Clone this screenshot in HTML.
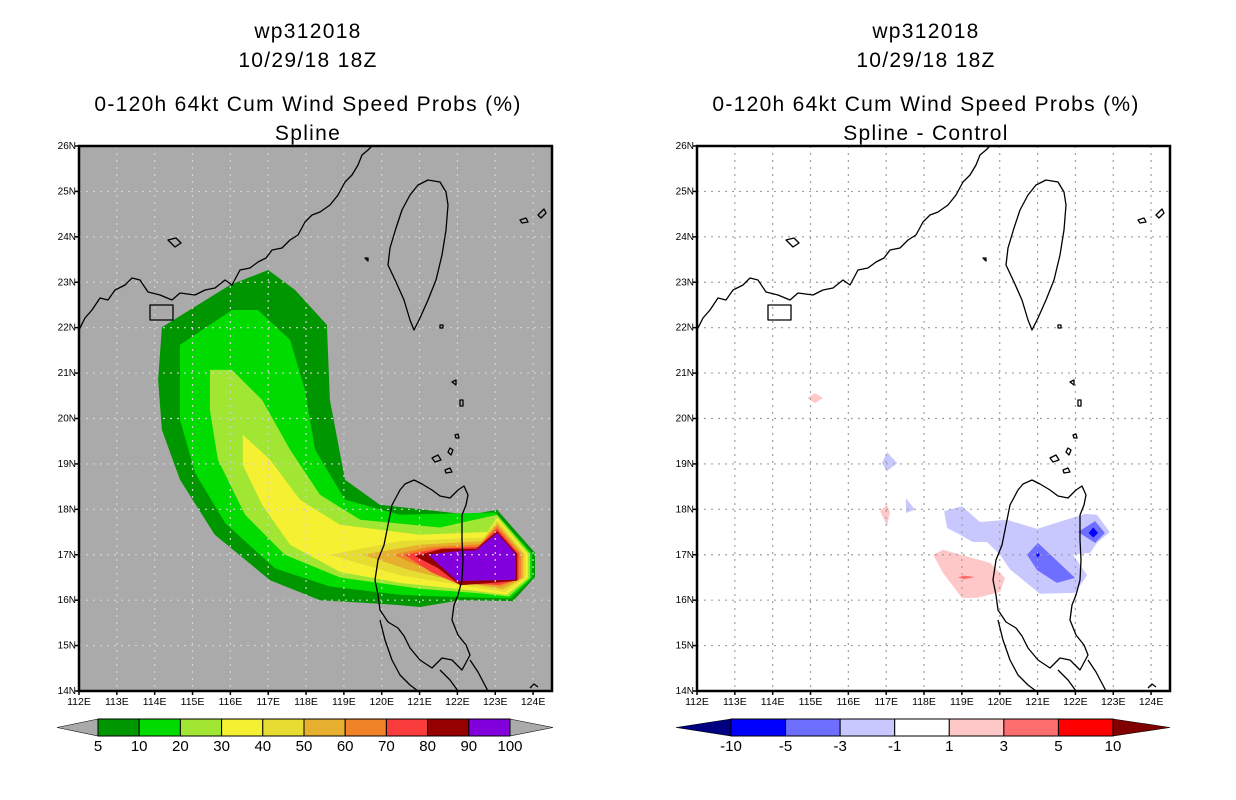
<!DOCTYPE html>
<html><head><meta charset="utf-8"><style>
body{margin:0;background:#fff;width:1236px;height:800px;overflow:hidden}
svg{display:block}
text{font-family:"Liberation Sans",sans-serif}
</style></head><body>
<svg id="s" width="1236" height="800" xmlns="http://www.w3.org/2000/svg">
<defs>
<clipPath id="clipL"><rect x="79" y="146" width="473" height="545"/></clipPath>
<g id="coast" fill="none" stroke="#000" stroke-width="1.3" stroke-linejoin="round">
<path d="M79,330 L85,318 L92,310 L100,298 L108,300 L115,290 L125,285 L132,278 L140,280 L148,292 L160,295 L172,300 L180,293 L195,295 L205,290 L215,288 L225,280 L232,285 L240,270 L250,268 L258,262 L266,258 L272,250 L282,248 L290,240 L298,235 L305,222 L312,215 L320,212 L330,205 L338,195 L345,182 L352,175 L358,165 L362,155 L368,150 L372,146"/>
<path d="M410,195 L418,185 L428,180 L440,182 L446,192 L448,205 L446,230 L442,255 L436,280 L428,300 L420,318 L414,330 L410,320 L404,300 L396,282 L388,265 L390,248 L396,228 L402,210 Z"/>
<path d="M405,484 L414,480 L422,484 L432,490 L440,496 L450,498 L458,490 L464,486 L468,495 L466,505 L462,515 L462,540 L463,560 L462,580 L458,595 L454,605 L452,620 L458,635 L466,645 L470,655 L462,670 L452,660 L442,658 L432,668 L420,660 L410,648 L404,636 L398,628 L388,622 L380,610 L378,595 L375,580 L378,560 L384,545 L388,525 L392,505 L400,490 Z"/>
<path d="M380,620 L385,640 L392,660 L400,675 L410,685 L418,691 M440,670 L450,680 L458,691 M470,660 L478,672 L488,691"/>
<path d="M150,305 h23 v15 h-23 Z"/>
<path d="M432,458 l6,-3 l3,5 l-6,2 Z M450,448 l3,2 l-2,5 l-3,-3 Z M445,470 l5,-2 l2,4 l-6,1 Z M455,435 l3,-1 l1,4 l-3,0 Z M440,325 l3,0 l0,3 l-3,0 Z M452,382 l4,-2 l0,5 Z M460,400 l3,0 l0,6 l-3,0 Z M520,220 l6,-2 l2,4 l-6,1 Z M538,215 l6,-6 l2,4 l-5,5 Z M168,240 l8,-2 l5,5 l-6,4 Z M365,258 l3,0 l0,3 Z M530,688 l4,-4 l4,3"/>
</g>
</defs>
<g id="root"></g>
</svg>
<script>
// ---- data (lon, lat) ----
const levels=[5,10,20,30,40,50,60,70,80,90,100];
const fillColors=["#009600","#00dc00","#a0e632","#f5f032","#e6dc32","#e6af2d","#f08228","#fa3c3c","#960000","#8200dc"];
const L5=[[114.19,22.01],[115.99,22.94],[117.0,23.27],[117.71,22.83],[118.55,22.06],[118.63,20.41],[119.03,18.65],[119.95,18.1],[122.33,17.88],[123.05,17.99],[124.05,17.04],[124.05,16.51],[123.47,15.98],[122.07,16.0],[121.01,15.85],[120.35,15.9],[118.37,16.0],[117.05,16.44],[115.59,17.44],[114.67,18.65],[114.19,19.75],[114.09,20.85]];
const L10=[[114.67,21.62],[116.04,22.39],[116.73,22.39],[117.58,21.73],[117.97,20.63],[118.24,19.31],[119.03,18.21],[120.48,17.88],[123.0,17.93],[123.98,17.02],[123.98,16.49],[123.4,16.04],[121.54,16.08],[120.48,16.12],[118.63,16.3],[117.18,16.7],[115.86,17.7],[115.07,18.8],[114.67,19.97]];
const L20=[[115.46,21.07],[116.04,21.07],[116.84,20.41],[117.58,19.31],[118.37,18.32],[119.43,17.77],[121.54,17.6],[123.05,17.88],[123.92,17.02],[123.92,16.49],[123.36,16.08],[122.6,16.15],[121.01,16.25],[118.9,16.5],[117.44,17.0],[116.39,17.88],[115.67,19.09],[115.46,20.19]];
const L30=[[116.33,19.64],[117.05,19.09],[117.84,18.21],[118.9,17.66],[121.01,17.44],[122.8,17.5],[123.05,17.82],[123.86,17.02],[123.86,16.49],[123.3,16.12],[122.33,16.22],[120.48,16.38],[118.9,16.62],[117.58,17.22],[116.84,18.1],[116.33,18.98]];
const L40=[[118.63,17.0],[120.48,17.3],[122.7,17.38],[123.05,17.76],[123.8,17.02],[123.8,16.49],[123.25,16.18],[122.33,16.3],[120.48,16.55]];
const L50=[[119.5,17.0],[121.01,17.22],[122.65,17.3],[123.05,17.7],[123.74,17.02],[123.74,16.49],[123.2,16.24],[122.07,16.4],[120.75,16.66]];
const L60=[[120.3,17.0],[121.27,17.17],[122.6,17.23],[123.05,17.64],[123.68,17.02],[123.68,16.49],[123.15,16.3],[121.94,16.45],[121.01,16.75]];
const L70=[[120.6,17.0],[121.54,17.14],[122.55,17.18],[123.05,17.58],[123.62,17.02],[123.62,16.45],[123.1,16.34],[122.0,16.36],[121.3,16.62]];
const L80=[[120.88,16.97],[121.6,17.13],[122.5,17.13],[123.05,17.52],[123.58,17.02],[123.58,16.43],[123.05,16.39],[122.07,16.33],[121.5,16.7]];
const L90=[[121.22,17.0],[122.0,17.08],[122.5,17.1],[123.05,17.48],[123.53,17.02],[123.53,16.45],[122.0,16.42]];
const L100=[[121.49,16.97],[122.53,16.97],[123.05,17.4],[123.48,17.0],[123.48,16.49],[122.02,16.49]];
const leftPolys=[L5,L10,L20,L30,L40,L50,L60,L70,L80,L90,L100];

const diffLevels=["-10","-5","-3","-1","1","3","5","10"];
const diffColors=["#0000ff","#6e6eff","#c8c8ff","#ffffff","#ffc8c8","#ff6e6e","#ff0000"];
const D_blueLight=[[118.53,17.96],[119.0,18.07],[119.48,17.72],[120.19,17.77],[120.99,17.57],[122.25,17.9],[122.57,17.88],[122.91,17.5],[122.57,17.26],[122.39,17.04],[121.94,17.0],[122.31,16.55],[121.99,16.16],[121.06,16.14],[120.27,16.68],[120.01,17.0],[119.66,17.28],[119.29,17.28],[118.95,17.44],[118.61,17.59]];
const D_blueSmall1=[[117.02,19.26],[117.29,19.02],[117.02,18.84],[116.89,19.02]];
const D_blueSmall2=[[117.52,18.25],[117.76,17.99],[117.52,17.92]];
const D_blueMed1=[[120.72,17.0],[121.01,17.26],[121.99,16.49],[121.51,16.38],[120.99,16.66]];
const D_blueMed2=[[122.07,17.5],[122.52,17.74],[122.78,17.48],[122.52,17.26]];
const D_blueDark1=[[122.35,17.48],[122.47,17.6],[122.6,17.48],[122.47,17.38]];
const D_blueDark2=[[120.96,17.0],[121.01,17.06],[121.06,17.0],[121.01,16.94]];
const D_pinkMain=[[118.24,17.0],[118.5,17.11],[119.74,16.82],[120.14,16.49],[120.01,16.18],[119.4,16.05],[119.0,16.05],[118.5,16.6]];
const D_pinkSmall1=[[117.02,18.1],[117.1,17.94],[117.02,17.63],[116.84,17.96]];
const D_pinkSmall2=[[114.91,20.45],[115.12,20.56],[115.33,20.45],[115.12,20.34]];
const D_red=[[118.9,16.5],[119.05,16.54],[119.35,16.51],[119.05,16.46]];
const rightPolys=[[D_blueLight,2,'diff-minus1-to-3'],[D_blueSmall1,2,'diff-small-blue-a'],[D_blueSmall2,2,'diff-small-blue-b'],[D_blueMed1,1,'diff-minus3-to-5-a'],[D_blueMed2,1,'diff-minus3-to-5-b'],[D_blueDark1,0,'diff-minus5-a'],[D_blueDark2,0,'diff-minus5-b'],[D_pinkMain,4,'diff-plus1-to-3'],[D_pinkSmall1,4,'diff-small-pink-a'],[D_pinkSmall2,4,'diff-small-pink-b'],[D_red,5,'diff-plus3-to-5']];

const latTicks=[26,25,24,23,22,21,20,19,18,17,16,15,14];
const lonTicks=[112,113,114,115,116,117,118,119,120,121,122,123,124];

// ---- axes ----
const LON0=112,LON1=124.5,LAT0=14,LAT1=26,PW=473,PH=545,TOP=146;
const panels=[{x0:79,name:'left'},{x0:697,name:'right'}];
const NS='http://www.w3.org/2000/svg';
const root=document.getElementById('root');
function mk(tag,attrs,parent){const e=document.createElementNS(NS,tag);for(const k in attrs)e.setAttribute(k,attrs[k]);(parent||root).appendChild(e);return e;}
function xs(p,lon){return p.x0+(lon-LON0)/(LON1-LON0)*PW;}
function ys(lat){return TOP+(LAT1-lat)/(LAT1-LAT0)*PH;}
function pts(p,arr){return arr.map(d=>xs(p,d[0]).toFixed(1)+','+ys(d[1]).toFixed(1)).join(' ');}

function titles(cx,sub,pn){
  const t=[["wp312018",38],["10/29/18 18Z",67],["0-120h 64kt Cum Wind Speed Probs (%)",111],[sub,140]];
  t.forEach((d,i)=>{const e=mk('text',{x:cx,y:d[1],'text-anchor':'middle','font-size':'21','letter-spacing':'1.3'});
    
    
    e.textContent=d[0];});
}
titles(308,"Spline",'left');
titles(926,"Spline - Control",'right');

panels.forEach((p,pi)=>{
  const g=mk('g',{});
  
  
  const bg=mk('rect',{x:p.x0,y:TOP,width:PW,height:PH,fill:pi==0?'#aaaaaa':'#ffffff'},g);
  
  
  if(pi==0){
    leftPolys.forEach((poly,i)=>{
      const e=mk('polygon',{points:pts(p,poly),fill:fillColors[Math.min(i,9)]},g);
      
      
    });
  } else {
    rightPolys.forEach(r=>{
      const e=mk('polygon',{points:pts(p,r[0]),fill:diffColors[r[1]]},g);
      
      
    });
  }
  const gc=pi==0?'#d2d2d2':'#a0a0a0';
  lonTicks.forEach(lon=>{const x=xs(p,lon);const l=mk('line',{x1:x,y1:TOP,x2:x,y2:TOP+PH,stroke:gc,'stroke-width':1.2,'stroke-dasharray':'2,5'},g);
    
    });
  latTicks.forEach(lat=>{const y=ys(lat);const l=mk('line',{x1:p.x0,y1:y,x2:p.x0+PW,y2:y,stroke:gc,'stroke-width':1.2,'stroke-dasharray':'2,5'},g);
    
    });
  const cg=mk('g',{'clip-path':'url(#clipL)',transform:'translate('+(p.x0-79)+',0)'},g);
  const u=mk('use',{href:'#coast'},cg);
  
  
  const fr=mk('rect',{x:p.x0,y:TOP,width:PW,height:PH,fill:'none',stroke:'#000','stroke-width':2.5},g);
  
  
  latTicks.forEach(lat=>{const y=ys(lat);
    mk('line',{x1:p.x0-4,y1:y,x2:p.x0,y2:y,stroke:'#000','stroke-width':1.5},g);
    const t=mk('text',{x:p.x0-3,y:y+3,'text-anchor':'end','font-size':'10'},g);
    
    
    t.textContent=lat+'N';});
  lonTicks.forEach(lon=>{const x=xs(p,lon);
    mk('line',{x1:x,y1:TOP+PH,x2:x,y2:TOP+PH+4,stroke:'#000','stroke-width':1.5},g);
    const t=mk('text',{x:x,y:TOP+PH+14,'text-anchor':'middle','font-size':'10.5'},g);
    
    
    t.textContent=lon+'E';});
});

function colorbar(x0,x1,tipL,tipR,y0,h,colors,labels,triL,triR,pn){
  const g=mk('g',{});
  
  
  const w=(x1-x0)/colors.length;
  mk('polygon',{points:`${x0},${y0} ${tipL},${y0+h/2} ${x0},${y0+h}`,fill:triL,stroke:'#000','stroke-width':0.6},g);
  mk('polygon',{points:`${x1},${y0} ${tipR},${y0+h/2} ${x1},${y0+h}`,fill:triR,stroke:'#000','stroke-width':0.6},g);
  colors.forEach((c,i)=>{const r=mk('rect',{x:x0+i*w,y:y0,width:w,height:h,fill:c,stroke:'#000','stroke-width':1},g);
    
    });
  labels.forEach((l,i)=>{const t=mk('text',{x:x0+i*w,y:y0+h+15,'text-anchor':'middle','font-size':'15'},g);
    
    
    t.textContent=l;});
}
colorbar(98,510,57,553,719,17,fillColors,levels.map(String),'#aaaaaa','#aaaaaa','left');
colorbar(731,1113,676,1170,719,17,diffColors,diffLevels,'#000080','#800000','right');
</script>
</body></html>
